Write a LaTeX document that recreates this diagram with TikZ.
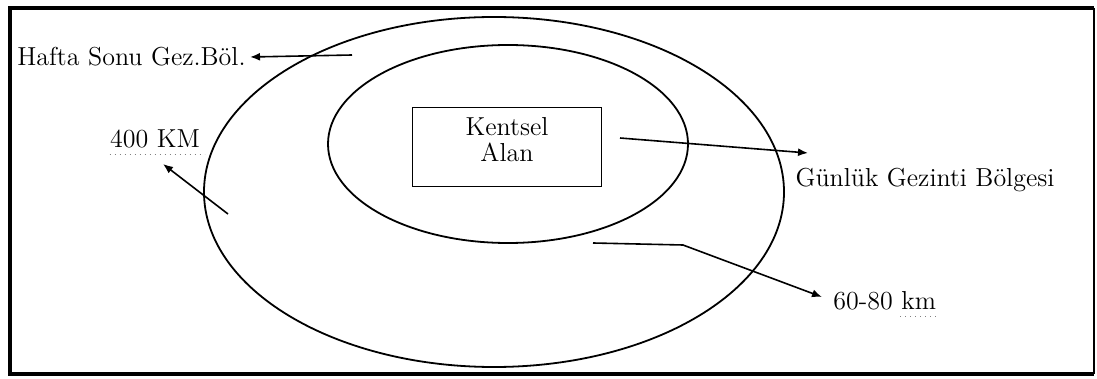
\documentclass[tikz,border=0pt]{standalone}
\usepackage{tikz}
\usetikzlibrary{arrows.meta}
\tikzset{zone/.style={line width=0.9pt},
  frame/.style={line width=2pt},
  lbl/.style={font=\fontsize{13}{15}\selectfont,inner sep=0pt},
  pointer/.style={line width=0.8pt,-{Latex[length=5pt,width=4pt]}},
  squiggle/.style={gray,line width=0.5pt,dotted}}

\begin{document}
\begin{tikzpicture}[x=0.5pt,y=-0.5pt]
	\useasboundingbox (0,0) rectangle (1097,379);
	% frame
	\draw[frame] (1094,8) -- (10,8) -- (10,374) -- (1094,374);
	\draw[line width=0.8pt] (1094,8) -- (1094,374);

	% zones
	\draw[zone] (494,192) ellipse [x radius=290,y radius=175];
	\draw[zone] (508,144) ellipse [x radius=180,y radius=99];
	\node[draw,zone,minimum width=94.5pt,minimum height=39.5pt] (kentsel) at (507,147) {};
	\node[lbl,align=center] (kentselad) at ([yshift=3.5pt]kentsel.center) {Kentsel\\[-2pt]Alan};

	% labels
	\node[lbl,anchor=west] (hafta) at (17,57) {Hafta Sonu Gez.B\"ol.};
	\node[lbl] (yuzkm) at (155,139) {400 KM};
	\node[lbl] (gunluk) at (925,180) {G\"unl\"uk Gezinti B\"olgesi};
	\node[lbl,anchor=west] (yakin) at (833,301) {60-80 km};
	\draw[squiggle] (yuzkm.south west) ++(0,6) -- ++(95,0);
	\draw[squiggle] (yakin.south east) ++(-36,6) -- ++(36,0);

	% pointers
	\coordinate (hs) at (352,55);
	\coordinate (dk) at (228,214);
	\coordinate (gg) at (620,138);
	\coordinate (ic) at (593,243);
	\draw[pointer] (hs) -- ([xshift=2pt]hafta.east);
	\draw[pointer] (dk) -- (163,164);
	\draw[pointer] (gg) -- (808,153);
	\draw[pointer] (ic) -- (683,245) -- (822,297);
\end{tikzpicture}
\end{document}
